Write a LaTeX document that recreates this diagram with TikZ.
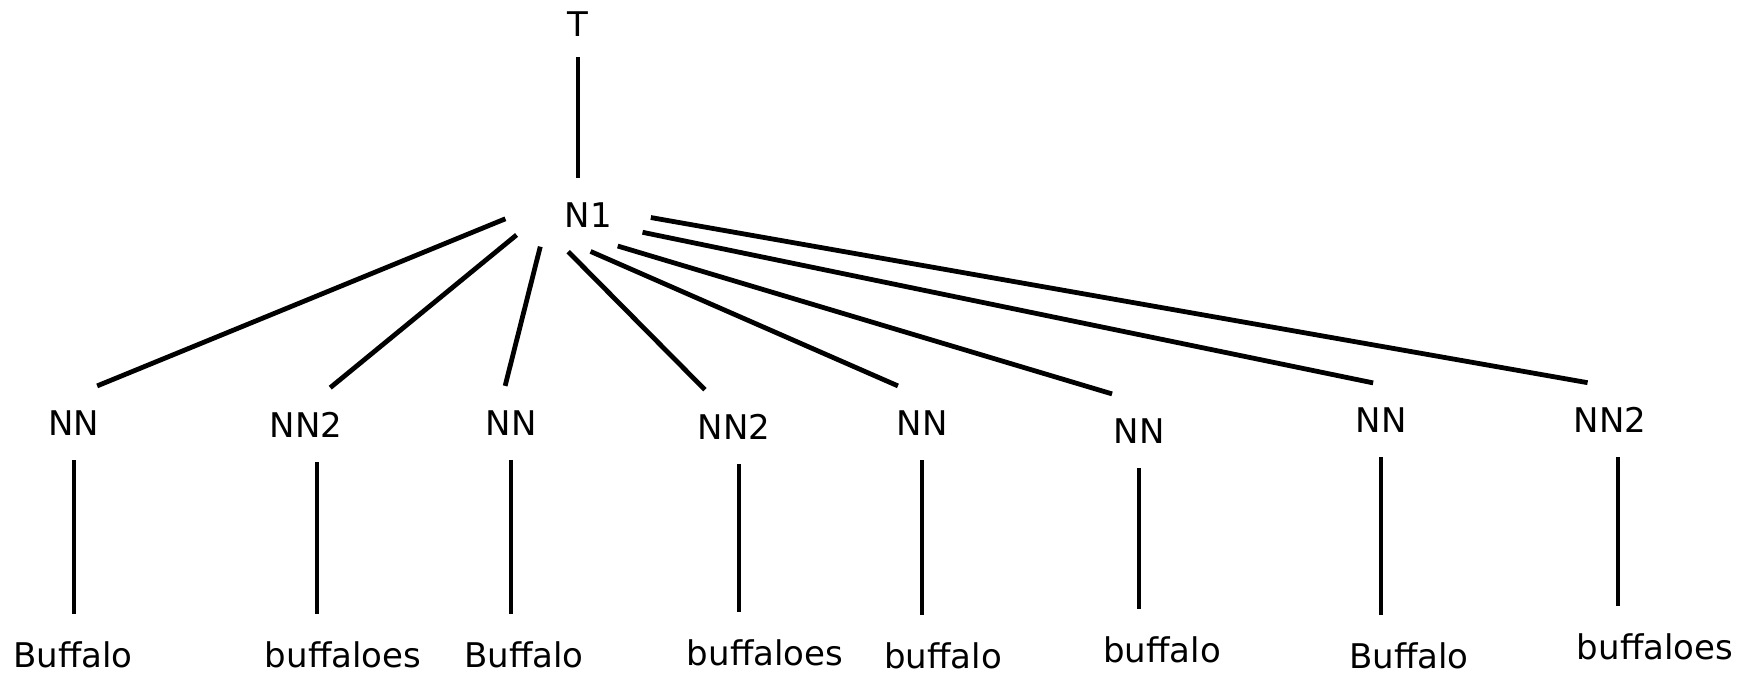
\documentclass[tikz,border=0pt]{standalone}
\usepackage{fontspec}
\setmainfont{DejaVu Sans}
\usepackage{tikz}
\usetikzlibrary{shapes,arrows}

\begin{document}
\begin{tikzpicture}[
  tag/.style={inner xsep=10pt,inner ysep=24.5pt},
  word/.style={inner xsep=0pt,inner ysep=28pt},
  branch/.style={line width=4.8pt}]
\fontsize{34pt}{40pt}\selectfont
\useasboundingbox (0pt,0pt) rectangle (1758pt,675pt);

% to write root and N1
\node [inner sep=20.5pt] (t) at (578pt,651pt) {T};
\node [ellipse,minimum width=146pt,minimum height=74pt,inner sep=0pt,outer sep=0pt,
       text width=68pt,align=right] (n1) at (578pt,460pt) {N1};
\draw [branch] (t) -- (n1);

% to write tags
\node [tag] (tag1) at (74pt,252pt) {NN};
\node [tag] (tag2) at (306pt,250pt) {NN2};
\node [tag] (tag3) at (511pt,252pt) {NN};
\node [tag] (tag4) at (734pt,248pt) {NN2};
\node [tag] (tag5) at (922pt,252pt) {NN};
\node [tag] (tag6) at (1139pt,244pt) {NN};
\node [tag] (tag7) at (1381pt,255pt) {NN};
\node [tag] (tag8) at (1610pt,255pt) {NN2};

% to write words
\node [word] (word1) at (73pt,20pt) {Buffalo};
\node [word] (word2) at (343pt,20pt) {buffaloes};
\node [word] (word3) at (524pt,20pt) {Buffalo};
\node [word] (word4) at (765pt,22pt) {buffaloes};
\node [word] (word5) at (943pt,19pt) {buffalo};
\node [word] (word6) at (1162pt,25pt) {buffalo};
\node [word] (word7) at (1409pt,19pt) {Buffalo};
\node [word] (word8) at (1655pt,28pt) {buffaloes};

% to draw branches from N1
\draw [branch] (n1.183) -- (tag1.58);
\draw [branch] (n1.198) -- (tag2.57);
\draw [branch] (n1.220) -- (tag3.99);
\draw [branch] (n1.255) -- (tag4.128);
\draw [branch] (n1.289) -- (tag5.123);
\draw [branch] (n1.322) -- (tag6.126);
\draw [branch] (n1.345) -- (tag7.102);
\draw [branch] (n1.358) -- (tag8.121);

% to draw vertical lines down to the words
\draw [branch] (tag1) -- (tag1 |- word1.north);
\draw [branch] ([xshift=11pt]tag2.south) -- ([xshift=11pt]tag2 |- word2.north);
\draw [branch] (tag3) -- (tag3 |- word3.north);
\draw [branch] ([xshift=5pt]tag4.south) -- ([xshift=5pt]tag4 |- word4.north);
\draw [branch] (tag5) -- (tag5 |- word5.north);
\draw [branch] (tag6) -- (tag6 |- word6.north);
\draw [branch] (tag7) -- (tag7 |- word7.north);
\draw [branch] ([xshift=8pt]tag8.south) -- ([xshift=8pt]tag8 |- word8.north);
\end{tikzpicture}
\end{document}
